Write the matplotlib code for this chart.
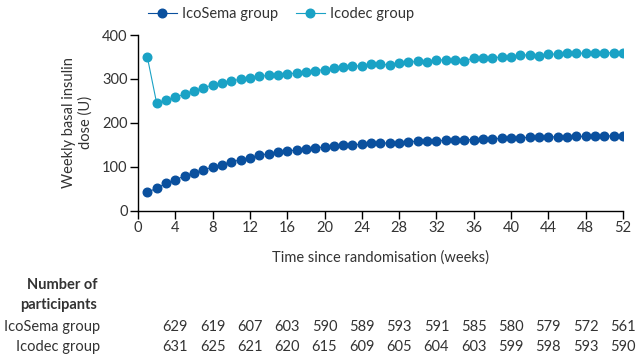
import matplotlib.pyplot as plt
import matplotlib.transforms as mtransforms

plt.rcParams['font.family'] = ['Lato', 'DejaVu Sans']

weeks = list(range(1, 53))
icosema = [42, 51, 62, 70, 79, 86, 93, 99, 105, 111,
           116, 121, 126, 130, 133, 136, 138, 141, 143, 145,
           147, 149, 150, 151, 153, 154, 154, 155, 157, 158,
           159, 159, 160, 161, 161, 162, 163, 163, 165, 165,
           166, 167, 167, 168, 168, 168, 169, 169, 169, 169,
           171, 170]
icodec = [350, 245, 252, 258, 266, 273, 280, 286, 290, 296,
          299, 303, 306, 308, 310, 312, 313, 316, 319, 321,
          325, 327, 329, 330, 333, 333, 332, 337, 338, 340,
          339, 342, 344, 343, 341, 348, 347, 348, 350, 351,
          355, 354, 353, 357, 356, 360, 358, 359, 359, 359,
          360, 360]

count_weeks = list(range(4, 53, 4))
n_icosema = [629, 619, 607, 603, 590, 589, 593, 591, 585, 580, 579, 572, 561]
n_icodec = [631, 625, 621, 620, 615, 609, 605, 604, 603, 599, 598, 593, 590]

dark_blue = '#0a509e'
teal = '#1aa2c5'
txt = '#333333'

fig = plt.figure(figsize=(6.4, 3.59), dpi=100)
ax = fig.add_axes([0.2156, 0.4131, 0.7578, 0.4894])

ax.plot(weeks, icosema, '-o', color=dark_blue, ms=6.2, lw=0.8, label='IcoSema group')
ax.plot(weeks, icodec, '-o', color=teal, ms=6.2, lw=0.8, label='Icodec group')

ax.set_xlim(0, 52)
ax.set_ylim(0, 400)
ax.set_xticks(range(0, 53, 4))
ax.set_yticks(range(0, 401, 100))
for s in ['top', 'right']:
    ax.spines[s].set_visible(False)
for s in ['left', 'bottom']:
    ax.spines[s].set_linewidth(1.0)
ax.tick_params(length=5.5, width=1.0, labelsize=10.5, labelcolor=txt, pad=2)
ax.set_xlabel('Time since randomisation (weeks)', fontsize=10.5, color=txt, labelpad=11)
ax.set_ylabel('Weekly basal insulin\ndose (U)', fontsize=10.5, color=txt, labelpad=7)

fig.legend(loc='center left', bbox_to_anchor=(0.222, 0.962), ncol=2, frameon=False,
           fontsize=10.5, handlelength=2.0, handletextpad=0.35, columnspacing=1.2,
           labelcolor=txt, borderaxespad=0)

# number at risk table
fig.text(0.152, 1 - 285 / 359, 'Number of', ha='right', va='center', fontsize=10.5,
         fontweight='bold', color=txt)
fig.text(0.152, 1 - 305 / 359, 'participants', ha='right', va='center', fontsize=10.5,
         fontweight='bold', color=txt)
fig.text(0.157, 1 - 327 / 359, 'IcoSema group', ha='right', va='center', fontsize=10.5, color=txt)
fig.text(0.157, 1 - 347 / 359, 'Icodec group', ha='right', va='center', fontsize=10.5, color=txt)

trans = mtransforms.blended_transform_factory(ax.transData, fig.transFigure)
for w, a, b in zip(count_weeks, n_icosema, n_icodec):
    fig.text(w, 1 - 327 / 359, str(a), ha='center', va='center', fontsize=10.5,
             color=txt, transform=trans)
    fig.text(w, 1 - 347 / 359, str(b), ha='center', va='center', fontsize=10.5,
             color=txt, transform=trans)

fig.savefig('out.png', dpi=100)
